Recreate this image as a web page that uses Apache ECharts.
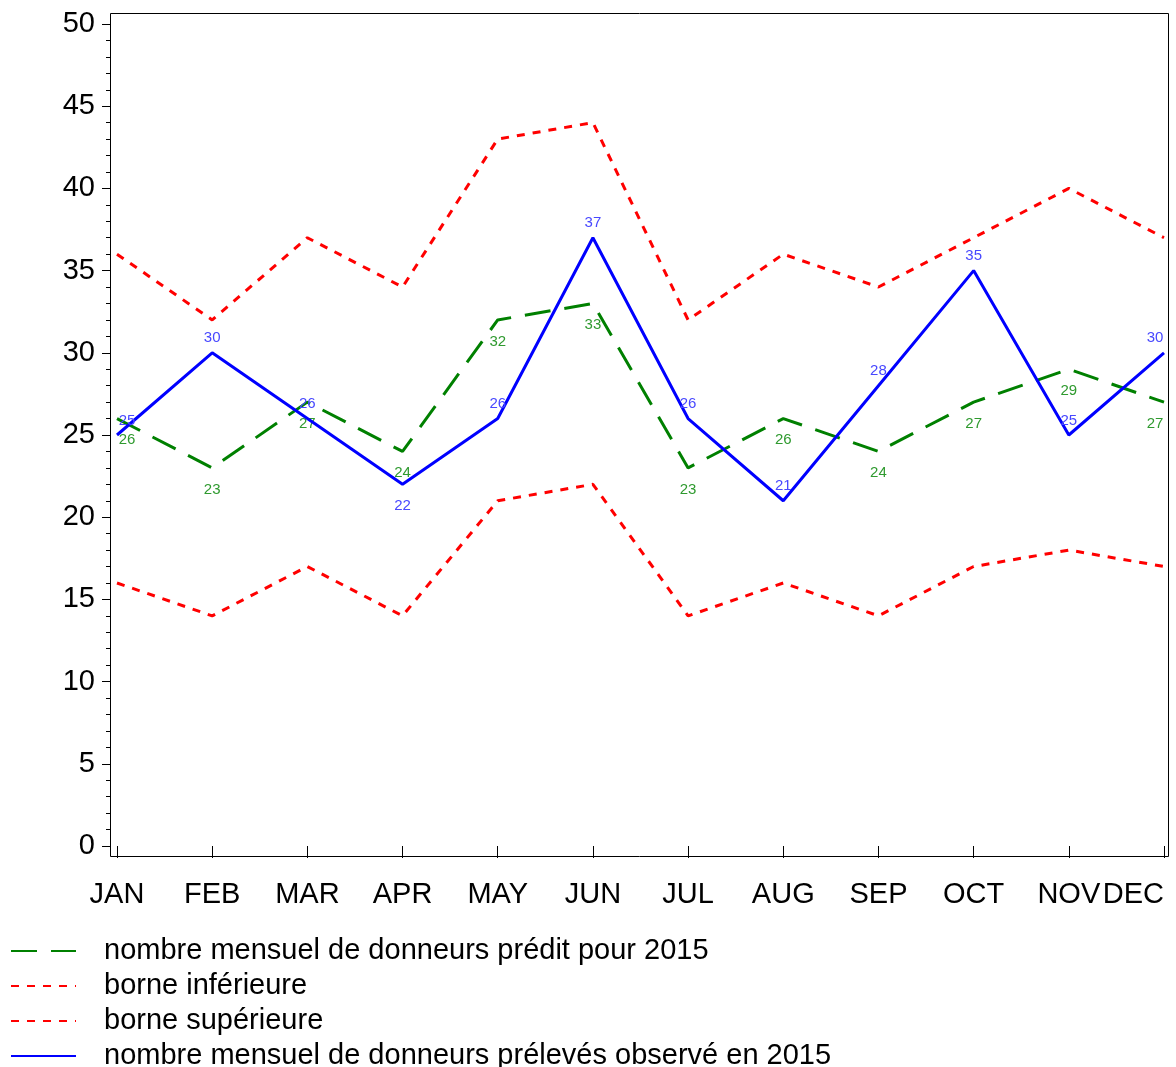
<!DOCTYPE html>
<html>
<head>
<meta charset="utf-8">
<script src="https://cdn.jsdelivr.net/npm/echarts@6/dist/echarts.min.js"></script>
<style>
  html, body { margin: 0; padding: 0; background: #fff; }
  #main { width: 1176px; height: 1067px; }
</style>
</head>
<body>
<div id="main"></div>
<script>
  // mois
  var months = ['JAN', 'FEB', 'MAR', 'APR', 'MAY', 'JUN', 'JUL', 'AUG', 'SEP', 'OCT', 'NOV', 'DEC'];
  // nombre mensuel predit
  var predit = [26, 23, 27, 24, 32, 33, 23, 26, 24, 27, 29, 27];
  var borneInf = [16, 14, 17, 14, 21, 22, 14, 16, 14, 17, 18, 17];
  var borneSup = [36, 32, 37, 34, 43, 44, 32, 36, 34, 37, 40, 37];
  // nombre observe
  var observe = [25, 30, 26, 22, 26, 37, 26, 21, 28, 35, 25, 30];

  var font = '"Liberation Sans", Arial, sans-serif';

  // decale les etiquettes aux bords pour qu'elles restent dans le cadre
  function labelled(values, pos, below) {
    return values.map(function (v, i) {
      var item = { value: v, label: { position: pos } };
      if (below && below.indexOf(i) >= 0) item.label = { position: 'bottom', distance: 14 };
      if (i === 0) item.label.offset = [10, 0];
      if (i === values.length - 1) item.label.offset = [-9, 0];
      return item;
    });
  }

  var myChart = echarts.init(document.getElementById('main'));
  var option = {
    animation: false,
    textStyle: { fontFamily: font },
    grid: { left: 117, right: 12, top: 24, bottom: 221, containLabel: false },
    graphic: [{
      type: 'rect',
      z: 0,
      shape: { x: 110.5, y: 13.5, width: 1058, height: 843 },
      style: { fill: 'none', stroke: '#000', lineWidth: 1 }
    }],
    legend: {
      orient: 'vertical',
      left: 10,
      top: 936,
      height: 300,
      padding: 0,
      itemWidth: 65,
      itemHeight: 14,
      itemGap: 5,
      itemStyle: { opacity: 0 },
      selectedMode: false,
      textStyle: { fontFamily: font, fontSize: 29, color: '#000', lineHeight: 30, padding: [0, 0, 0, 23] },
      data: [
        'nombre mensuel de donneurs prédit pour 2015',
        'borne inférieure',
        'borne supérieure',
        'nombre mensuel de donneurs prélevés observé en 2015'
      ]
    },
    xAxis: {
      type: 'category',
      data: months,
      boundaryGap: false,
      offset: 11,
      axisLine: { show: false },
      axisTick: { show: true, length: 12, lineStyle: { color: '#000' } },
      axisLabel: { fontFamily: font, fontSize: 29, color: '#000', margin: 23, alignMaxLabel: 'right' },
      splitLine: { show: false }
    },
    yAxis: {
      type: 'value',
      min: 0,
      max: 50,
      interval: 5,
      offset: 7,
      axisLine: { show: false },
      axisTick: { show: true, length: 8, lineStyle: { color: '#000' } },
      minorTick: { show: true, splitNumber: 5, length: 4, lineStyle: { color: '#000' } },
      axisLabel: { fontFamily: font, fontSize: 29, color: '#000', margin: 15 },
      splitLine: { show: false }
    },
    series: [
      {
        name: 'nombre mensuel de donneurs prédit pour 2015',
        type: 'line',
        symbol: 'circle',
        symbolSize: 0,
        data: labelled(predit, 'bottom'),
        lineStyle: { color: '#008000', width: 3, type: [26, 14] },
        itemStyle: { color: '#008000' },
        label: { show: true, fontSize: 15, color: '#2f9a2f', distance: 14, fontFamily: font },
        z: 3
      },
      {
        name: 'borne inférieure',
        type: 'line',
        symbol: 'none',
        data: borneInf,
        lineStyle: { color: '#ff0000', width: 3, type: [8, 8] },
        itemStyle: { color: '#ff0000' },
        z: 2
      },
      {
        name: 'borne supérieure',
        type: 'line',
        symbol: 'none',
        data: borneSup,
        lineStyle: { color: '#ff0000', width: 3, type: [8, 8] },
        itemStyle: { color: '#ff0000' },
        z: 2
      },
      {
        name: 'nombre mensuel de donneurs prélevés observé en 2015',
        type: 'line',
        symbol: 'circle',
        symbolSize: 0,
        data: labelled(observe, 'top', [3]),
        lineStyle: { color: '#0000ff', width: 3 },
        itemStyle: { color: '#0000ff' },
        label: { show: true, fontSize: 15, color: '#4848ff', distance: 7, fontFamily: font },
        z: 4
      }
    ]
  };
  myChart.setOption(option);
</script>
</body>
</html>
